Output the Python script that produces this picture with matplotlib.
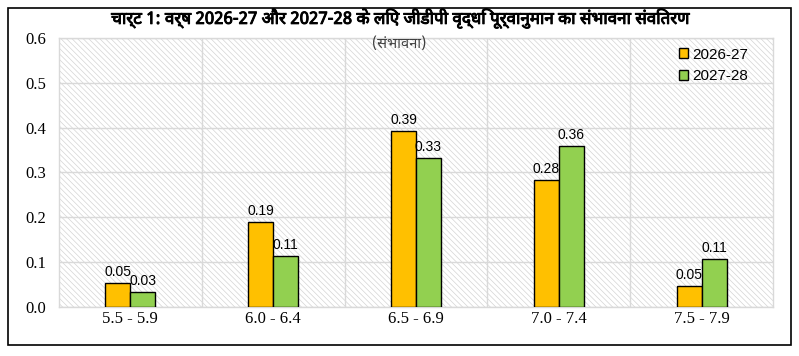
import numpy as np
import matplotlib.pyplot as plt
import matplotlib.patheffects as pe
from matplotlib.patches import Rectangle
from matplotlib import font_manager

# Data
categories = ['5.5 - 5.9', '6.0 - 6.4', '6.5 - 6.9', '7.0 - 7.4', '7.5 - 7.9']
prob_2026 = [0.054, 0.19, 0.393, 0.283, 0.046]
prob_2027 = [0.033, 0.114, 0.333, 0.359, 0.107]
series_names = ['2026-27', '2027-28']
yticks = [0.0, 0.1, 0.2, 0.3, 0.4, 0.5, 0.6]

title = 'चार्ट 1: वर्ष 2026-27 और 2027-28 के लिए जीडीपी वृद्धि पूर्वानुमान का संभावना संवितरण'
subtitle = '(संभावना)'

# pick a Devanagari-capable font if one exists
installed = {f.name for f in font_manager.fontManager.ttflist}
deva = [f for f in ['Noto Sans Devanagari', 'Lohit Devanagari', 'Mangal',
                    'FreeSans', 'Noto Sans'] if f in installed]
title_fam = deva + ['DejaVu Sans']

plt.rcParams['hatch.linewidth'] = 0.5
plt.rcParams['hatch.color'] = '#d4d4d4'

fig = plt.figure(figsize=(7.99, 3.56), dpi=100)
ax = fig.add_axes([0.0738, 0.1376, 0.8937, 0.7557])

# outer black frame
fig.patches.append(Rectangle((0.010, 0.031), 0.980, 0.947, transform=fig.transFigure,
                             fill=False, edgecolor='black', linewidth=1.2))

# hatched plot-area background
ax.add_patch(Rectangle((0, 0), 1, 1, transform=ax.transAxes, facecolor='white',
                       edgecolor='#d4d4d4', hatch='\\\\\\\\\\\\', linewidth=0, zorder=0))

x = np.arange(len(categories))
w = 0.175
b1 = ax.bar(x - w/2, prob_2026, w, color='#FFC000', edgecolor='black', linewidth=1.0,
            label=series_names[0], zorder=3)
b2 = ax.bar(x + w/2, prob_2027, w, color='#92D050', edgecolor='black', linewidth=1.0,
            label=series_names[1], zorder=3)

lab_font = dict(family=['Liberation Sans Narrow', 'Liberation Sans'], fontsize=10)
for bars, vals in [(b1, prob_2026), (b2, prob_2027)]:
    for r, v in zip(bars, vals):
        ax.annotate('%.2f' % v, (r.get_x() + r.get_width()/2, v), xytext=(0, 3),
                    textcoords='offset points', ha='center', va='bottom',
                    zorder=4, **lab_font)

ax.set_xlim(-0.5, len(categories) - 0.5)
ax.set_ylim(0, 0.6)
ax.set_yticks(yticks)
ax.set_yticklabels(['%.1f' % t for t in yticks], family='Liberation Serif', fontsize=12)
ax.set_xticks(x)
ax.set_xticklabels(categories, family='Liberation Serif', fontsize=12)
ax.set_xticks(np.arange(0.5, len(categories) - 0.5), minor=True)
ax.tick_params(axis='both', which='both', length=0)
ax.tick_params(axis='y', pad=9)
ax.tick_params(axis='x', pad=3)
ax.grid(True, axis='y', which='major', color='#d9d9d9', linewidth=1.0, zorder=1)
ax.grid(True, axis='x', which='minor', color='#d9d9d9', linewidth=1.0, zorder=1)
ax.set_axisbelow(True)
for s in ax.spines.values():
    s.set_color('#d9d9d9')
    s.set_linewidth(1.0)

# title font has no bold face, so thicken it with a stroke
fig.text(0.5, 0.948, title, ha='center', va='center', fontsize=12.2,
         fontweight='bold', family=title_fam,
         path_effects=[pe.withStroke(linewidth=0.7, foreground='black')])
fig.text(0.5, 0.876, subtitle, ha='center', va='center', fontsize=10.5,
         family=title_fam, color='#404040')

leg = ax.legend(loc='upper right', bbox_to_anchor=(0.985, 1.015), frameon=False,
                prop={'family': ['Liberation Sans Narrow', 'Liberation Sans'], 'size': 11},
                handlelength=0.6, handleheight=0.6, handletextpad=0.3, labelspacing=0.5)

fig.savefig('out.png', dpi=100)
